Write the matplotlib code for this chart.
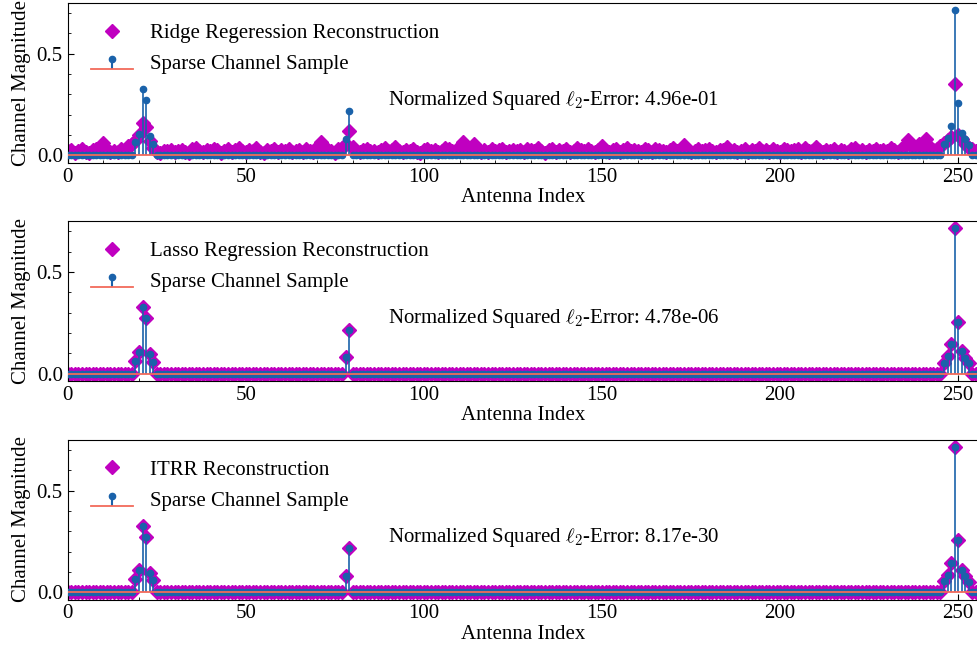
import numpy as np
import matplotlib
matplotlib.use("Agg")
import matplotlib.pyplot as plt
from matplotlib.ticker import MultipleLocator

plt.rcParams['font.family'] = ['Liberation Serif', 'DejaVu Serif']
plt.rcParams['mathtext.fontset'] = 'cm'
plt.rcParams['font.size'] = 15

N = 256
antenna = np.arange(N)

# nonzero entries of the sparse channel
peak_idx = [19, 20, 21, 22, 23, 24, 78, 79, 246, 247, 248, 249, 250, 251, 252, 253]
peak_val = [0.065, 0.107, 0.328, 0.272, 0.095, 0.058, 0.082, 0.216,
            0.054, 0.087, 0.146, 0.715, 0.256, 0.111, 0.079, 0.051]

# ridge regression reconstruction magnitudes
ridge = [
    0.020, 0.027, 0.014, 0.022, 0.033, 0.018, 0.011, 0.025, 0.030, 0.037, 0.062, 0.028, 0.016, 0.023, 0.019, 0.032,
    0.026, 0.044, 0.058, 0.072, 0.098, 0.158, 0.142, 0.070, 0.038, 0.017, 0.010, 0.024, 0.021, 0.029, 0.015, 0.022,
    0.028, 0.019, 0.013, 0.031, 0.036, 0.022, 0.017, 0.025, 0.020, 0.033, 0.027, 0.014, 0.022, 0.030, 0.018, 0.026,
    0.035, 0.021, 0.016, 0.029, 0.023, 0.038, 0.019, 0.012, 0.027, 0.024, 0.032, 0.018, 0.025, 0.021, 0.030, 0.016,
    0.023, 0.028, 0.019, 0.034, 0.022, 0.017, 0.040, 0.066, 0.037, 0.025, 0.020, 0.014, 0.031, 0.037, 0.055, 0.120,
    0.040, 0.022, 0.018, 0.027, 0.033, 0.020, 0.024, 0.016, 0.029, 0.035, 0.021, 0.026, 0.039, 0.023, 0.017, 0.028,
    0.022, 0.031, 0.019, 0.014, 0.026, 0.033, 0.021, 0.027, 0.018, 0.024, 0.036, 0.030, 0.020, 0.028, 0.042, 0.066,
    0.032, 0.023, 0.058, 0.037, 0.019, 0.025, 0.016, 0.030, 0.022, 0.027, 0.034, 0.018, 0.023, 0.029, 0.020, 0.026,
    0.017, 0.031, 0.025, 0.021, 0.037, 0.022, 0.014, 0.028, 0.033, 0.019, 0.026, 0.023, 0.030, 0.016, 0.022, 0.035,
    0.027, 0.020, 0.032, 0.024, 0.018, 0.029, 0.046, 0.023, 0.019, 0.026, 0.031, 0.017, 0.025, 0.036, 0.021, 0.028,
    0.022, 0.016, 0.030, 0.025, 0.019, 0.033, 0.027, 0.021, 0.015, 0.029, 0.038, 0.024, 0.020, 0.050, 0.026, 0.018,
    0.023, 0.031, 0.020, 0.027, 0.034, 0.022, 0.016, 0.028, 0.025, 0.040, 0.021, 0.029, 0.018, 0.024, 0.032, 0.019,
    0.026, 0.022, 0.037, 0.020, 0.028, 0.015, 0.031, 0.023, 0.019, 0.034, 0.027, 0.021, 0.025, 0.030, 0.017, 0.036,
    0.024, 0.020, 0.042, 0.028, 0.018, 0.026, 0.022, 0.032, 0.019, 0.027, 0.023, 0.016, 0.030, 0.035, 0.021, 0.025,
    0.018, 0.029, 0.024, 0.033, 0.020, 0.027, 0.022, 0.037, 0.025, 0.019, 0.031, 0.045, 0.076, 0.040, 0.032, 0.056,
    0.036, 0.080, 0.042, 0.027, 0.034, 0.047, 0.060, 0.075, 0.090, 0.352, 0.098, 0.080, 0.055, 0.037, 0.030, 0.024,
]

sparse = np.zeros(N)
sparse[peak_idx] = peak_val
lasso = sparse.copy()
itrr = sparse.copy()

recon_labels = ["Ridge Regeression Reconstruction",
                "Lasso Regression Reconstruction",
                "ITRR Reconstruction"]
errors = ["4.96e-01", "4.78e-06", "8.17e-30"]
recons = [np.array(ridge), lasso, itrr]

W, H = 977, 652
fig = plt.figure(figsize=(W / 100, H / 100), dpi=100)

left_px = 67.7
width_px = 911.9
tops = [2.7, 221.0, 439.5]
height_px = 160.0

stem_blue = '#1a62aa'
base_red = '#f26a5a'

for k in range(3):
    ax = fig.add_axes([left_px / W, 1 - (tops[k] + height_px) / H,
                       width_px / W, height_px / H])
    ax.plot(antenna, recons[k], 'D', color='#c000c0', markersize=7,
            linestyle='none', label=recon_labels[k], zorder=2)
    ml, sl, bl = ax.stem(antenna, sparse, label='Sparse Channel Sample')
    plt.setp(ml, color=stem_blue, markersize=4.5, zorder=3)
    plt.setp(sl, color=stem_blue, linewidth=1.2, zorder=3)
    plt.setp(bl, color=base_red, linewidth=1.3, zorder=3)
    ax.set_xlim(0, 256)
    ax.set_xlabel("Antenna Index", labelpad=1)
    ax.set_ylabel("Channel Magnitude")
    ax.xaxis.set_major_locator(MultipleLocator(50))
    ax.xaxis.set_minor_locator(MultipleLocator(10))
    ax.yaxis.set_major_locator(MultipleLocator(0.5))
    ax.yaxis.set_minor_locator(MultipleLocator(0.1))
    ax.tick_params(which='both', direction='in', labelsize=15)
    ax.tick_params(which='major', length=4)
    ax.tick_params(which='minor', length=2.5)
    ax.legend(loc='upper left', frameon=False, numpoints=1, fontsize=15,
              borderaxespad=0.3, bbox_to_anchor=(0.010, 0.9625),
              labelspacing=0.55)
    ax.text(0.351, 0.39, r"Normalized Squared $\ell_2$-Error: " + errors[k],
            transform=ax.transAxes, ha='left', va='center', fontsize=15)

fig.savefig("out.png", dpi=100)
